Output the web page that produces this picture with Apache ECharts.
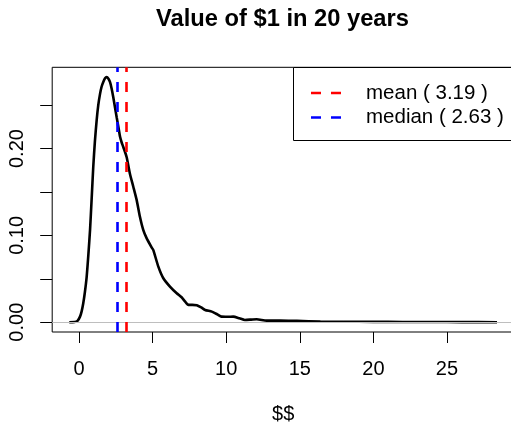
<!DOCTYPE html>
<html><head><meta charset="utf-8">
<script src="https://cdn.jsdelivr.net/npm/echarts@6/dist/echarts.min.js"></script>
<style>html,body{margin:0;padding:0;background:#fff}#c{width:511px;height:426px}</style>
</head><body><div id="c"></div>
<script>
const titleText = 'Value of $1 in 20 years';
const xAxisTitle = '$$';
const densityX = [-0.66, -0.3, -0.1, 0.07, 0.18, 0.29, 0.4, 0.52, 0.63, 0.75, 0.86, 0.97, 1.08, 1.2, 1.31, 1.43, 1.54, 1.65, 1.77, 1.88, 2.0, 2.11, 2.22, 2.33, 2.45, 2.56, 2.68, 2.79, 2.9, 3.01, 3.24, 3.46, 3.69, 3.92, 4.14, 4.37, 4.6, 4.94, 5.05, 5.39, 5.73, 6.18, 6.64, 6.97, 7.2, 7.43, 7.7, 8.0, 8.3, 8.57, 9.02, 9.4, 9.68, 10.1, 10.48, 10.9, 11.27, 11.7, 12.07, 12.75, 13.66, 14.8, 16.4, 18.0, 20.0, 22.0, 24.0, 26.0, 28.4];
const densityY = [0.0, 0.0002, 0.0015, 0.0064, 0.0125, 0.0218, 0.0345, 0.052, 0.076, 0.106, 0.142, 0.179, 0.208, 0.2325, 0.25, 0.263, 0.2715, 0.2768, 0.281, 0.2823, 0.2805, 0.2766, 0.269, 0.259, 0.247, 0.236, 0.2245, 0.2135, 0.207, 0.2018, 0.19, 0.171, 0.156, 0.1406, 0.1214, 0.106, 0.0965, 0.086, 0.083, 0.064, 0.0506, 0.041, 0.0333, 0.0287, 0.024, 0.0199, 0.0199, 0.0195, 0.017, 0.0141, 0.0122, 0.009, 0.0064, 0.0062, 0.0064, 0.0045, 0.0026, 0.003, 0.0034, 0.0018, 0.0018, 0.0015, 0.0007, 0.0005, 0.0004, 0.0003, 0.0002, 0.0001, 0.0];
const statNames = ['mean', 'median'];
const statValues = [3.19, 2.63];
const xTicks = [0, 5, 10, 15, 20, 25];
const yTicks = [0, 0.05, 0.1, 0.15, 0.2, 0.25];
const yTickLabels = [0, 0.1, 0.2];

const statColors = ['#ff0000', '#0000ff'];
const FONT = 'Liberation Sans, Arial, Helvetica, sans-serif';
const chart = echarts.init(document.getElementById('c'), null, {renderer: 'canvas'});

const densityData = densityX.map((x, i) => [x, densityY[i]]);

const legendGraphics = [{
  type: 'rect', z: 100,
  shape: {x: 293.5, y: 67.5, width: 240, height: 73},
  style: {fill: '#fff', stroke: '#000', lineWidth: 1}
}];
statNames.forEach((n, i) => {
  const y = 93 + i * 24.5;
  legendGraphics.push({
    type: 'line', z: 101,
    shape: {x1: 311, y1: y, x2: 341, y2: y},
    style: {stroke: statColors[i], lineWidth: 2.7, lineDash: [10, 10]}
  });
  legendGraphics.push({
    type: 'text', z: 101,
    style: {text: n + ' ( ' + statValues[i].toFixed(2) + ' )', x: 366, y: y,
      fill: '#000', fontSize: 20.5, fontFamily: FONT, align: 'left', verticalAlign: 'middle'}
  });
});

chart.setOption({
  animation: false,
  backgroundColor: '#fff',
  grid: {left: 52.2, right: -3.1, top: 67.3, bottom: 94, outerBoundsMode: 'none', containLabel: false,
    show: true, borderColor: '#000', borderWidth: 1, backgroundColor: 'transparent'},
  xAxis: {
    type: 'value', min: -1.82, max: 29.56,
    name: xAxisTitle, nameLocation: 'middle', nameGap: 72,
    nameTextStyle: {fontSize: 20, fontFamily: FONT, color: '#000'},
    axisLine: {show: false, onZero: false},
    axisTick: {show: true, inside: false, length: 11, customValues: xTicks, lineStyle: {color: '#000', width: 1}},
    axisLabel: {customValues: xTicks, margin: 27, fontSize: 20, fontFamily: FONT, color: '#000'},
    splitLine: {show: false}
  },
  yAxis: {
    type: 'value', min: -0.0113, max: 0.2936,
    axisLine: {show: false, onZero: false},
    axisTick: {show: true, inside: false, length: 12, customValues: yTicks, lineStyle: {color: '#000', width: 1}},
    axisLabel: {customValues: yTickLabels, rotate: 90, margin: 25, fontSize: 20, fontFamily: FONT, color: '#000',
      formatter: v => Number(v).toFixed(2)},
    splitLine: {show: false}
  },
  graphic: [
    {type: 'text', z: 100, style: {text: titleText, x: 282.5, y: 19, fill: '#000',
      fontSize: 23.7, fontWeight: 'bold', fontFamily: FONT, align: 'center', verticalAlign: 'middle'}}
  ].concat(legendGraphics),
  series: [
    {
      type: 'line', data: [], silent: true, z: 1,
      markLine: {silent: true, symbol: 'none', label: {show: false},
        lineStyle: {color: '#bebebe', width: 1, type: 'solid'},
        data: [{yAxis: 0}]}
    },
    {
      type: 'line', data: densityData, showSymbol: false, smooth: 0.2, z: 2,
      lineStyle: {color: '#000', width: 2.6}
    },
    {
      type: 'line', data: [], silent: true, z: 3,
      markLine: {silent: true, symbol: 'none', label: {show: false},
        data: statValues.map((v, i) => ({xAxis: v, lineStyle: {color: statColors[i], width: 2.6, type: [10, 10]}}))}
    }
  ]
});
</script></body></html>
